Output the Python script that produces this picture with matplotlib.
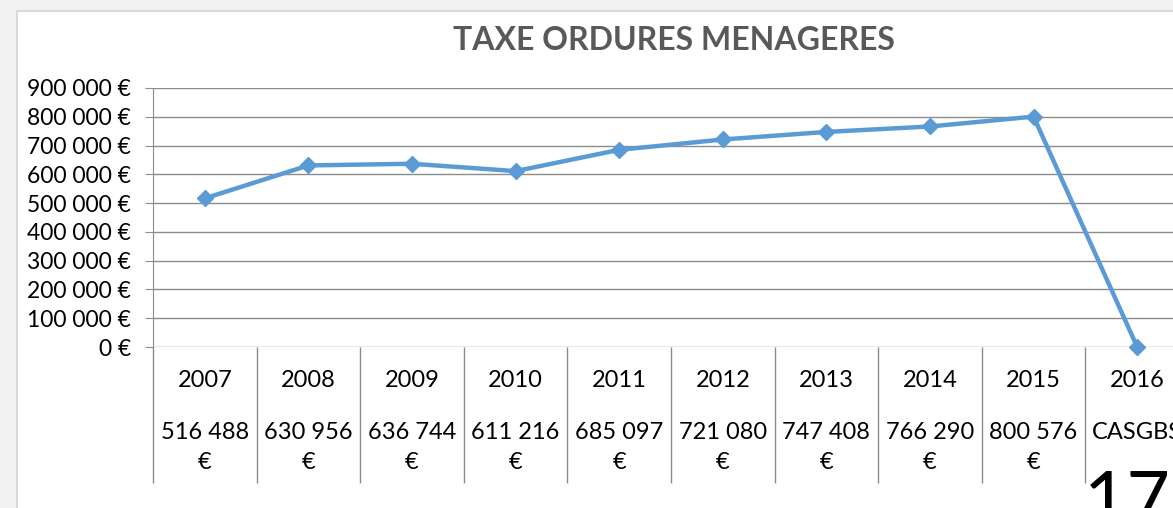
import matplotlib.pyplot as plt
from matplotlib.patches import Rectangle
import numpy as np

# data
years = ['2007', '2008', '2009', '2010', '2011', '2012', '2013', '2014', '2015', '2016']
amounts = [516488, 630956, 636744, 611216, 685097, 721080, 747408, 766290, 800576, 0]
amount_labels = ['516 488\n€', '630 956\n€', '636 744\n€', '611 216\n€', '685 097\n€',
                 '721 080\n€', '747 408\n€', '766 290\n€', '800 576\n€', 'CASGBS']
yticks = [0, 100000, 200000, 300000, 400000, 500000, 600000, 700000, 800000, 900000]
ytick_labels = ['0 €', '100 000 €', '200 000 €', '300 000 €', '400 000 €', '500 000 €',
                '600 000 €', '700 000 €', '800 000 €', '900 000 €']

plt.rcParams['font.family'] = ['Lato', 'DejaVu Sans']

W, H = 1173, 508
fig = plt.figure(figsize=(W / 100, H / 100), dpi=100, facecolor='#f2f2f2')

# white chart area with light border
fig.patches.append(Rectangle((17 / W, -0.1), 1.2, (H - 11) / H + 0.1, transform=fig.transFigure,
                             facecolor='white', edgecolor='#d9d9d9', linewidth=1.5, zorder=-5))

ax = fig.add_axes([153 / W, 161 / H, 1036 / W, 259 / H])
ax.set_facecolor('none')
x = np.arange(len(years))
gridc = '#8c8c8c'

ax.plot(x, amounts, color='#5b9bd5', linewidth=3.2, marker='D', markersize=8.5,
        clip_on=False, zorder=3)

ax.set_xlim(-0.5, len(years) - 0.5)
ax.set_ylim(0, 900000)
ax.set_yticks(yticks)
ax.set_yticklabels(ytick_labels, fontsize=16.5)
ax.yaxis.grid(True, color=gridc, linewidth=1)
ax.set_axisbelow(True)
ax.tick_params(axis='y', length=6, color=gridc, pad=10)
ax.set_xticks([])

for s in ['top', 'right', 'bottom']:
    ax.spines[s].set_visible(False)
ax.spines['left'].set_color(gridc)

# category table under the axis
tr = ax.get_xaxis_transform()
ax.vlines(np.arange(len(years) + 1) - 0.5, -0.525, 0, transform=tr, colors=gridc,
          linewidth=1, clip_on=False)
for i in range(len(years)):
    ax.text(i, -0.131, years[i], transform=tr, ha='center', va='center', fontsize=17)
    ax.text(i, -0.29, amount_labels[i], transform=tr, ha='center', va='top',
            fontsize=17, linespacing=1.5)

fig.text(674 / W, (H - 40) / H, 'TAXE ORDURES MENAGERES', ha='center', va='center',
         fontsize=23, fontweight='bold', color='#595959')

# page number in the corner
fig.text(1084 / W, (H - 469) / H, '17', ha='left', va='top', fontsize=54,
         color='black')

fig.savefig('out.png', dpi=100, facecolor=fig.get_facecolor())
